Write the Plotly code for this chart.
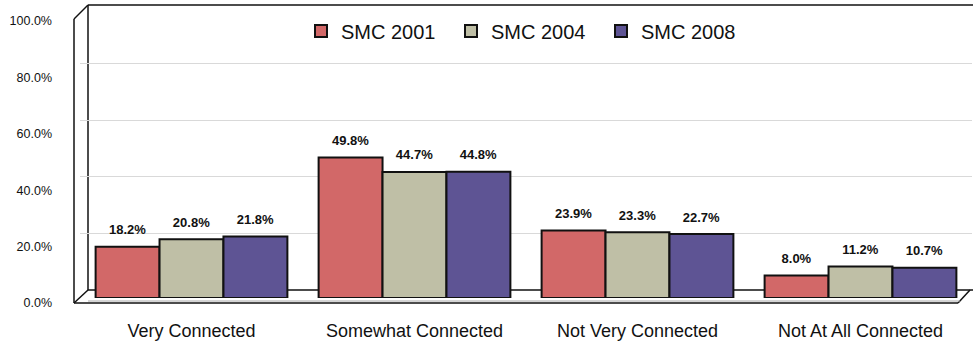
import plotly.graph_objects as go

categories = ["Very Connected", "Somewhat Connected", "Not Very Connected", "Not At All Connected"]
series_names = ["SMC 2001", "SMC 2004", "SMC 2008"]
smc2001 = [18.2, 49.8, 23.9, 8.0]
smc2004 = [20.8, 44.7, 23.3, 11.2]
smc2008 = [21.8, 44.8, 22.7, 10.7]
colors = ["#D26868", "#BFBFA6", "#5E5494"]
y_ticks = [0, 20, 40, 60, 80, 100]

W, H = 973, 345
L, R, T, B = 80, 1, 16, 47
pw, ph = W - L - R, H - T - B
LABEL_PAD = 2.3  # spacing (in axis units) between bar top and its value label

def px(x):
    return (x - L) / pw

def py(y):
    return (H - B - y) / ph

fig = go.Figure()
for i, (name, vals, col) in enumerate(zip(series_names, [smc2001, smc2004, smc2008], colors)):
    fig.add_trace(go.Bar(
        x=categories, y=vals, name=name, offsetgroup=str(i),
        marker=dict(color=col, line=dict(color="#111111", width=2)),
        hovertemplate="%{x}<br>" + name + ": %{y:.1f}%<extra></extra>",
    ))
    # transparent spacer bar carrying the value label slightly above the bar top
    fig.add_trace(go.Bar(
        x=categories, y=[LABEL_PAD] * len(vals), base=vals, offsetgroup=str(i),
        marker=dict(color="rgba(0,0,0,0)", line=dict(width=0)),
        text=[f"{v:.1f}%" for v in vals], textposition="outside",
        textfont=dict(family="Liberation Sans, Arial", size=13, color="#111111", weight="bold"),
        cliponaxis=False, showlegend=False, hoverinfo="skip",
    ))

# invisible trace carrying the back-wall grid axis
fig.add_trace(go.Scatter(x=categories, y=[None] * 4, yaxis="y3", showlegend=False, hoverinfo="skip"))

fig.update_layout(
    width=W, height=H,
    margin=dict(l=L, r=R, t=T, b=B),
    paper_bgcolor="white", plot_bgcolor="rgba(0,0,0,0)",
    barmode="group", bargap=0.14, bargroupgap=0,
    font=dict(family="Liberation Sans, Arial", color="#111111"),
    xaxis=dict(showgrid=False, zeroline=False, showline=False, ticks="",
               ticklabelstandoff=20, tickfont=dict(size=18, color="#111111")),
    yaxis=dict(range=[0, 100], tickvals=y_ticks, ticktext=[f"{v:.1f}%" for v in y_ticks],
               showgrid=False, zeroline=False, showline=False, ticks="",
               ticklabelstandoff=27, ticklabelshift=5,
               tickfont=dict(size=12.5, color="#111111")),
    yaxis3=dict(overlaying="y", range=[-3, 97], tickvals=[20, 40, 60, 80], showticklabels=False,
                showgrid=True, gridcolor="#D9D9D9", gridwidth=1, zeroline=False, showline=False),
    legend=dict(orientation="h", x=0.5, xanchor="center", y=py(31), yanchor="middle",
                font=dict(size=20, color="#111111"), bgcolor="white",
                entrywidth=105, entrywidthmode="pixels"),
)

# 3D-style frame (back wall and floor edges)
frame = [
    ((88, 5), (88, 290)),
    ((88, 5), (973, 5)),
    ((74, 19), (74, 303)),
    ((74, 19), (88, 5)),
    ((74, 303), (88, 290)),
    ((88, 290), (973, 290)),
    ((74, 303), (958, 303)),
    ((958, 303), (970, 290)),
]
shapes = []
for (x0, y0), (x1, y1) in frame:
    shapes.append(dict(type="line", xref="paper", yref="paper",
                       x0=px(x0), y0=py(y0), x1=px(x1), y1=py(y1),
                       line=dict(color="#111111", width=1.5), layer="below"))
shapes.append(dict(type="line", xref="paper", yref="paper",
                   x0=px(88), y0=py(301), x1=px(960), y1=py(301),
                   line=dict(color="#AAAAAA", width=1), layer="below"))
fig.update_layout(shapes=shapes)

fig.write_html("out.html", config={"displayModeBar": False})

with open("out.html", "r", encoding="utf-8") as f:
    html = f.read()
html = html.replace("<body>", '<body style="margin:0;padding:0;overflow:hidden">', 1)
with open("out.html", "w", encoding="utf-8") as f:
    f.write(html)
